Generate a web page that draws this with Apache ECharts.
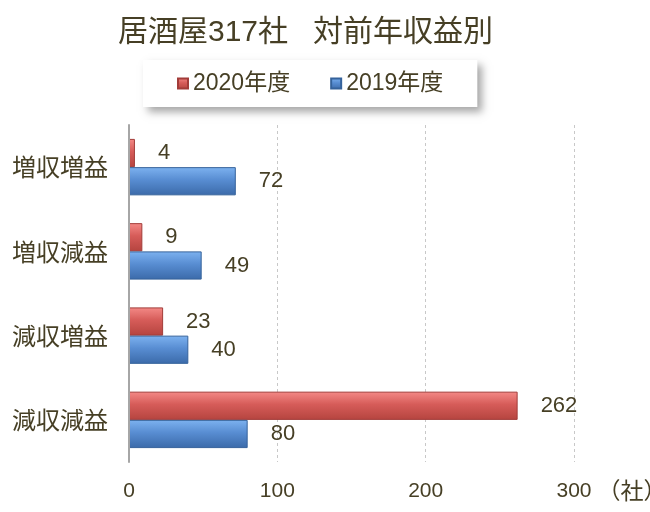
<!DOCTYPE html>
<html>
<head>
<meta charset="utf-8">
<script src="https://cdn.jsdelivr.net/npm/echarts@6/dist/echarts.min.js"></script>
<style>
  html, body { margin: 0; padding: 0; background: #fff; }
  #chart { width: 650px; height: 512px; }
</style>
</head>
<body>
<div id="chart"></div>
<script>
// 居酒屋317社 対前年収益別
const categories = ["増収増益", "増収減益", "減収増益", "減収減益"];
const seriesNames = ["2020年度", "2019年度"];
const values2020 = [4, 9, 23, 262];
const values2019 = [72, 49, 40, 80];
const xTicks = [0, 100, 200, 300];

const textColor = "#463f25";
const numFont = "'Liberation Sans', Arial, 'Noto Sans CJK JP', sans-serif";
const jpFont = "'Noto Sans CJK JP', sans-serif";

function grad(top, mid, bottom) {
  return new echarts.graphic.LinearGradient(0, 0, 0, 1, [
    { offset: 0, color: top },
    { offset: 0.45, color: mid },
    { offset: 1, color: bottom },
  ]);
}

const myChart = echarts.init(document.getElementById("chart"));

const labelStyle = {
  show: true,
  position: "right",
  distance: 23,
  color: textColor,
  fontSize: 22,
  fontFamily: numFont,
};

const option = {
  animation: false,
  backgroundColor: "#fff",
  title: {
    text: "居酒屋317社   対前年収益別",
    left: 118,
    top: 18,
    padding: 0,
    textStyle: {
      color: textColor,
      fontSize: 30,
      fontWeight: "normal",
      fontFamily: numFont,
    },
  },
  legend: {
    data: seriesNames,
    icon: "rect",
    left: 143,
    top: 60,
    padding: [12, 34],
    itemGap: 40,
    itemWidth: 10,
    itemHeight: 10,
    backgroundColor: "#fff",
    shadowBlur: 8,
    shadowColor: "rgba(0,0,0,0.35)",
    shadowOffsetX: 5,
    shadowOffsetY: 5,
    textStyle: {
      color: textColor,
      fontSize: 23,
      fontFamily: numFont,
    },
  },
  grid: {
    left: 129,
    right: 76,
    top: 125,
    bottom: 50,
    outerBoundsMode: "none",
    containLabel: false,
  },
  xAxis: {
    type: "value",
    min: xTicks[0],
    max: xTicks[xTicks.length - 1],
    interval: 100,
    name: "（社）",
    nameLocation: "end",
    nameGap: 5,
    nameTextStyle: {
      color: textColor,
      fontSize: 23,
      fontFamily: jpFont,
      align: "left",
      verticalAlign: "top",
      padding: [17, 0, 0, 0],
    },
    axisLine: { show: false },
    axisTick: { show: false },
    axisLabel: {
      color: textColor,
      fontSize: 21,
      fontFamily: numFont,
      margin: 19,
    },
    splitLine: {
      lineStyle: { color: "#c8c8c8", type: [3, 3], width: 1 },
    },
  },
  yAxis: {
    type: "category",
    data: categories,
    inverse: true,
    axisLine: { lineStyle: { color: "#a6a6a6", width: 2 } },
    axisTick: {
      inside: true,
      length: 6,
      lineStyle: { color: "#a6a6a6", width: 2 },
    },
    axisLabel: {
      color: textColor,
      fontSize: 24,
      fontFamily: jpFont,
      margin: 21,
    },
    z: 5,
  },
  series: [
    {
      name: seriesNames[0],
      type: "bar",
      data: values2020,
      barGap: 0,
      barCategoryGap: "33%",
      itemStyle: {
        color: grad("#f48a87", "#d65c59", "#b5443f"),
        borderColor: "#a23c39",
        borderWidth: 1,
      },
      label: labelStyle,
    },
    {
      name: seriesNames[1],
      type: "bar",
      data: values2019,
      barGap: 0,
      barCategoryGap: "33%",
      itemStyle: {
        color: grad("#7db2f0", "#588dd2", "#3b6aa9"),
        borderColor: "#35629b",
        borderWidth: 1,
      },
      label: labelStyle,
    },
  ],
};

myChart.setOption(option);
</script>
</body>
</html>
